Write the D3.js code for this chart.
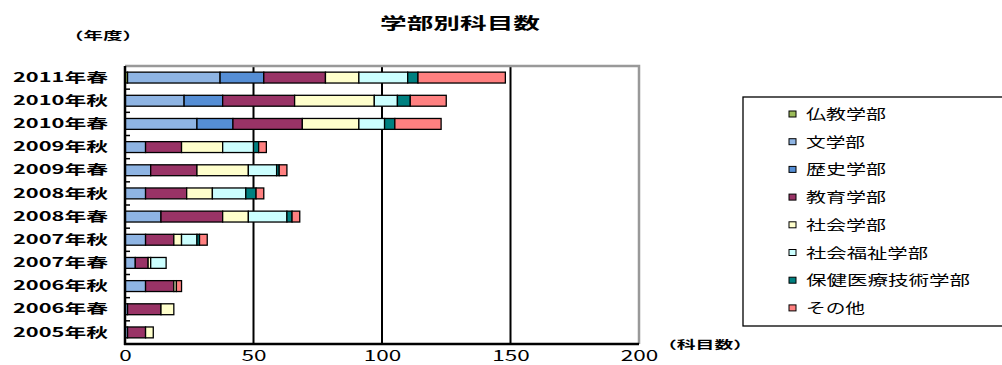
<!DOCTYPE html>
<html>
<head>
<meta charset="utf-8">
<script src="https://cdn.jsdelivr.net/npm/d3@7"></script>
<style>
  body { margin: 0; background: #fff; }
  svg text { font-family: "Noto Sans CJK JP", "DejaVu Sans", sans-serif; fill: #000; }
</style>
</head>
<body>
<div id="chart"></div>
<script>
// categories, top to bottom
var terms = ["2011年春","2010年秋","2010年春","2009年秋","2009年春","2008年秋","2008年春","2007年秋","2007年春","2006年秋","2006年春","2005年秋"];

var faculties = ["仏教学部","文学部","歴史学部","教育学部","社会学部","社会福祉学部","保健医療技術学部","その他"];
var colors    = ["#9bbb59","#8eb4e3","#558ed5","#993366","#ffffcc","#ccffff","#008080","#ff8080"];

// subjects per faculty, same order as terms
var bukkyo   = [1, 0, 0, 0, 0, 0, 0, 0, 0, 0, 0, 0];
var bungaku  = [36,23,28, 8,10, 8,14, 8, 4, 8, 1, 1];
var rekishi  = [17,15,14, 0, 0, 0, 0, 0, 0, 0, 0, 0];
var kyoiku   = [24,28,27,14,18,16,24,11, 5,11,13, 7];
var shakai   = [13,31,22,16,20,10,10, 3, 1, 1, 5, 3];
var fukushi  = [19, 9,10,12,11,13,15, 6, 6, 0, 0, 0];
var hoken    = [ 4, 5, 4, 2, 1, 4, 2, 1, 0, 0, 0, 0];
var sonota   = [34,14,18, 3, 3, 3, 3, 3, 0, 2, 0, 0];

var xTicks = [0, 50, 100, 150, 200];

var series = [bukkyo, bungaku, rekishi, kyoiku, shakai, fukushi, hoken, sonota];

var rows = terms.map(function(t, i){
  var r = {term: t};
  faculties.forEach(function(f, j){ r[f] = series[j][i]; });
  return r;
});

var dim = { width: 1002, height: 365, left: 125, right: 639, top: 66, bottom: 344 };

var svg = d3.select("#chart").append("svg")
            .attr("width", dim.width)
            .attr("height", dim.height);

var xScale = d3.scaleLinear().domain([0, 200]).range([dim.left, dim.right]);
var yScale = d3.scaleBand().domain(terms).range([dim.top, dim.bottom])
               .paddingInner(0.53).paddingOuter(0.265);

// title
svg.append("text")
   .attr("x", 460).attr("y", 29)
   .attr("text-anchor", "middle")
   .attr("font-size", 16).attr("font-weight", "bold")
   .attr("textLength", 160).attr("lengthAdjust", "spacingAndGlyphs")
   .text("学部別科目数");

svg.append("text")
   .attr("x", 64).attr("y", 40)
   .attr("font-size", 11).attr("font-weight", "bold")
   .attr("textLength", 78).attr("lengthAdjust", "spacingAndGlyphs")
   .text("（年度）");

svg.append("text")
   .attr("x", 658).attr("y", 349)
   .attr("font-size", 11).attr("font-weight", "bold")
   .attr("textLength", 94).attr("lengthAdjust", "spacingAndGlyphs")
   .text("（科目数）");

// gridlines at 50/100/150 (black), right border gray
svg.append("g").selectAll("line")
   .data(xTicks.slice(1, 4))
   .enter().append("line")
   .attr("x1", function(d){ return xScale(d); }).attr("x2", function(d){ return xScale(d); })
   .attr("y1", dim.top).attr("y2", dim.bottom)
   .attr("stroke", "#000").attr("stroke-width", 2);

svg.append("path")
   .attr("d", "M" + dim.left + "," + dim.top + "H" + dim.right + "V" + dim.bottom)
   .attr("fill", "none").attr("stroke", "#999").attr("stroke-width", 2.5);

// stacked bars
var stack = d3.stack().keys(faculties);
var layers = stack(rows);

svg.append("g").selectAll("g")
   .data(layers)
   .enter().append("g")
   .attr("fill", function(d, i){ return colors[i]; })
   .selectAll("rect")
   .data(function(d){ return d.filter(function(s){ return s[1] - s[0] > 0; }); })
   .enter().append("rect")
   .attr("x", function(d){ return xScale(d[0]); })
   .attr("width", function(d){ return xScale(d[1]) - xScale(d[0]); })
   .attr("y", function(d){ return yScale(d.data.term); })
   .attr("height", yScale.bandwidth())
   .attr("stroke", "#000").attr("stroke-width", 1.3);

// axes lines
svg.append("line")
   .attr("x1", dim.left).attr("x2", dim.left)
   .attr("y1", dim.top).attr("y2", dim.bottom + 1)
   .attr("stroke", "#000").attr("stroke-width", 2.5);
svg.append("line")
   .attr("x1", dim.left - 1).attr("x2", dim.right)
   .attr("y1", dim.bottom).attr("y2", dim.bottom)
   .attr("stroke", "#000").attr("stroke-width", 2.5);

// inward ticks between categories
var step = yScale.step();
svg.append("g").selectAll("line")
   .data(terms.slice(1))
   .enter().append("line")
   .attr("x1", dim.left).attr("x2", dim.left + 5)
   .attr("y1", function(d){ return yScale(d) - step * yScale.paddingInner() / 2; })
   .attr("y2", function(d){ return yScale(d) - step * yScale.paddingInner() / 2; })
   .attr("stroke", "#000").attr("stroke-width", 1.5);

// category labels
var yAxis = d3.axisLeft(yScale).tickSize(0).tickPadding(17);
var yg = svg.append("g").attr("transform", "translate(" + dim.left + ",0)").call(yAxis);
yg.select(".domain").remove();
yg.selectAll("text")
  .attr("font-size", 13).attr("font-weight", "bold")
  .attr("font-family", "\"Noto Sans CJK JP\", sans-serif")
  .attr("textLength", 95).attr("lengthAdjust", "spacingAndGlyphs");

// x tick labels
var xAxis = d3.axisBottom(xScale).tickValues(xTicks).tickSize(0).tickFormat(d3.format("d"));
var xg = svg.append("g").attr("transform", "translate(0," + dim.bottom + ")").call(xAxis);
xg.select(".domain").remove();
xg.selectAll("text")
  .attr("y", 17).attr("dy", null)
  .attr("font-size", 15)
  .attr("font-family", "\"Noto Sans CJK JP\", sans-serif")
  .attr("textLength", function(d){ return String(d).length * 12.5; })
  .attr("lengthAdjust", "spacingAndGlyphs");

// legend
var legend = svg.append("g");
legend.append("rect")
      .attr("x", 743).attr("y", 97)
      .attr("width", 300).attr("height", 229)
      .attr("fill", "#fff").attr("stroke", "#000").attr("stroke-width", 1.3);

var items = legend.selectAll("g.item")
      .data(faculties)
      .enter().append("g")
      .attr("class", "item")
      .attr("transform", function(d, i){ return "translate(0," + (114 + i * 27.7) + ")"; });

items.append("rect")
     .attr("x", 789).attr("y", -3)
     .attr("width", 7).attr("height", 6)
     .attr("fill", function(d, i){ return colors[i]; })
     .attr("stroke", "#000").attr("stroke-width", 1);

items.append("text")
     .attr("x", 806).attr("y", 5)
     .attr("font-size", 14)
     .attr("textLength", function(d){ return d.length * 21 - 4; })
     .attr("lengthAdjust", "spacingAndGlyphs")
     .text(function(d){ return d; });
</script>
</body>
</html>
